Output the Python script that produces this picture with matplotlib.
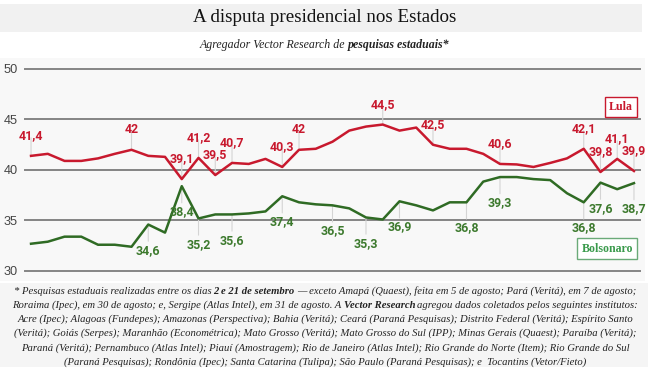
"""
A disputa presidencial nos Estados - Lula x Bolsonaro
"""
import matplotlib
matplotlib.use("Agg")
import matplotlib.pyplot as plt
from matplotlib.patches import Rectangle

lula = [41.4, 41.6, 40.9, 40.9, 41.15, 41.6, 42.0, 41.4, 41.3, 39.1, 41.2, 39.5,
        40.7, 40.6, 41.1, 40.3, 42.0, 42.1, 42.8, 43.9, 44.3, 44.5, 43.9, 44.2,
        42.5, 42.1, 42.1, 41.6, 40.6, 40.55, 40.3, 40.7, 41.15, 42.1, 39.8, 41.1, 39.9]
bolsonaro = [32.7, 32.9, 33.4, 33.4, 32.6, 32.6, 32.4, 34.6, 33.8, 38.4, 35.2, 35.6,
             35.6, 35.7, 35.9, 37.4, 36.8, 36.6, 36.5, 36.2, 35.3, 35.1, 36.9, 36.5,
             36.0, 36.8, 36.8, 38.85, 39.3, 39.3, 39.1, 39.0, 37.7, 36.8, 38.75, 38.1, 38.7]

lula_label_idx = [0, 6, 9, 10, 11, 12, 15, 16, 21, 24, 28, 33, 34, 35, 36]
lula_labels = ["41,4", "42", "39,1", "41,2", "39,5", "40,7", "40,3", "42", "44,5",
               "42,5", "40,6", "42,1", "39,8", "41,1", "39,9"]
bolso_label_idx = [7, 9, 10, 12, 15, 18, 20, 22, 26, 28, 33, 34, 36]
bolso_labels = ["34,6", "38,4", "35,2", "35,6", "37,4", "36,5", "35,3", "36,9",
                "36,8", "39,3", "36,8", "37,6", "38,7"]
y_ticks = [30, 35, 40, 45, 50]

title = "A disputa presidencial nos Estados"
# pieces of each line; a space between pieces is added by mixed_line
footnote = [
    [("* Pesquisas estaduais realizadas entre os dias", "normal"),
     ("2 e 21 de setembro", "bold"),
     ("— exceto Amapá (Quaest), feita em 5 de agosto; Pará (Veritá), em 7 de agosto;", "normal")],
    [("Roraima (Ipec), em 30 de agosto; e, Sergipe (Atlas Intel), em 31 de agosto. A", "normal"),
     ("Vector Research", "bold"),
     ("agregou dados coletados pelos seguintes institutos:", "normal")],
    [("Acre (Ipec); Alagoas (Fundepes); Amazonas (Perspectiva); Bahia (Veritá); Ceará (Paraná Pesquisas); Distrito Federal (Veritá); Espírito Santo", "normal")],
    [("(Veritá); Goiás (Serpes); Maranhão (Econométrica); Mato Grosso (Veritá); Mato Grosso do Sul (IPP); Minas Gerais (Quaest); Paraíba (Veritá);", "normal")],
    [("Paraná (Veritá); Pernambuco (Atlas Intel); Piauí (Amostragem); Rio de Janeiro (Atlas Intel); Rio Grande do Norte (Item); Rio Grande do Sul", "normal")],
    [("(Paraná Pesquisas); Rondônia (Ipec); Santa Catarina (Tulipa); São Paulo (Paraná Pesquisas); e  Tocantins (Vetor/Fieto)", "normal")],
]
subtitle = [("Agregador Vector Research de", "normal"), ("pesquisas estaduais*", "bold")]

RED = "#c8192e"
GREEN = "#2f6b24"
W, H = 650, 369


def fy(py):
    return 1 - py / H


def mixed_line(fig, renderer, pieces, xc, yc, size, color="#222222"):
    """Draw a centred line made of normal/bold italic serif pieces."""
    texts = []
    for s, w in pieces:
        t = fig.text(0, yc, s, fontsize=size, family="Liberation Serif", style="italic",
                     weight=w, color=color, va="center", ha="left")
        texts.append(t)
    widths = [t.get_window_extent(renderer).width for t in texts]
    gap = size * 0.3
    x = xc * W - (sum(widths) + gap * (len(texts) - 1)) / 2
    for t, w in zip(texts, widths):
        t.set_x(x / W)
        x += w + gap


def main():
    fig = plt.figure(figsize=(6.5, 3.69), dpi=100)
    fig.patch.set_facecolor("white")
    renderer = fig.canvas.get_renderer()

    # background panels
    for (x0, y0, w, h, c) in [(0, 32, 642, 28, "#f1f1f1"),
                              (0, 281, 645, 223, "#f8f8f8"),
                              (0, 367, 648, 84, "#f5f5f5")]:
        fig.patches.append(Rectangle((x0 / W, fy(y0)), w / W, h / H,
                                     transform=fig.transFigure, facecolor=c,
                                     edgecolor="none", zorder=-5))

    fig.text(0.5, fy(18), title, fontsize=13.7, family="Liberation Serif", color="#111111",
             ha="center", va="center")
    mixed_line(fig, renderer, subtitle, 0.5, fy(45), 8.6, color="#222222")
    for i, line in enumerate(footnote):
        mixed_line(fig, renderer, line, 0.5, fy(291 + i * 14.2), 7.7)

    ax = fig.add_axes([25 / W, fy(271), 615 / W, 202 / H])
    ax.set_facecolor("none")
    ax.set_zorder(2)
    x = list(range(len(lula)))
    ax.set_xlim(-0.36, 36.36)
    ax.set_ylim(30, 50)
    for s in ax.spines.values():
        s.set_visible(False)
    ax.set_xticks([])
    ax.set_yticks(y_ticks)
    ax.set_yticklabels([str(v) for v in y_ticks], fontsize=9.2, family="Liberation Sans",
                       color="#444444")
    ax.tick_params(axis="y", length=0, pad=5)
    for v in y_ticks:
        ax.axhline(v, color="#848484", lw=1.4, zorder=1, clip_on=False)

    ax.plot(x, lula, color=RED, lw=1.8, zorder=4, clip_on=False)
    ax.plot(x, bolsonaro, color=GREEN, lw=1.8, zorder=4, clip_on=False)

    for i, lab in zip(lula_label_idx, lula_labels):
        ax.annotate("", xy=(i, lula[i]), xytext=(0, 13), textcoords="offset points",
                    arrowprops=dict(arrowstyle="-", color="#d4d4d4", lw=0.8,
                                    shrinkA=0, shrinkB=0), zorder=2)
        ax.annotate(lab, xy=(i, lula[i]), xytext=(0, 14.5), textcoords="offset points",
                    ha="center", va="center", fontsize=8.9, family="Roboto",
                    weight="bold", color=RED, zorder=5)
    for i, lab in zip(bolso_label_idx, bolso_labels):
        ax.annotate("", xy=(i, bolsonaro[i]), xytext=(0, -12), textcoords="offset points",
                    arrowprops=dict(arrowstyle="-", color="#d4d4d4", lw=0.8,
                                    shrinkA=0, shrinkB=0), zorder=2)
        ax.annotate(lab, xy=(i, bolsonaro[i]), xytext=(0, -18.5), textcoords="offset points",
                    ha="center", va="center", fontsize=8.9, family="Roboto",
                    weight="bold", color="#3d7a2e", zorder=5)

    # legend boxes
    fig.text(621 / W, fy(107), "Lula", fontsize=8.6, family="Liberation Serif",
             weight="bold", color=RED, ha="center", va="center", zorder=6,
             bbox=dict(boxstyle="square,pad=0.35", facecolor="white", edgecolor=RED, lw=1))
    fig.text(607 / W, fy(248.5), "Bolsonaro", fontsize=8.6, family="Liberation Serif",
             weight="bold", color="#3a9a4c", ha="center", va="center", zorder=6,
             bbox=dict(boxstyle="square,pad=0.35", facecolor="white",
                       edgecolor="#6aaa78", lw=1))

    fig.savefig("out.png", dpi=100)


if __name__ == '__main__':
    main()
